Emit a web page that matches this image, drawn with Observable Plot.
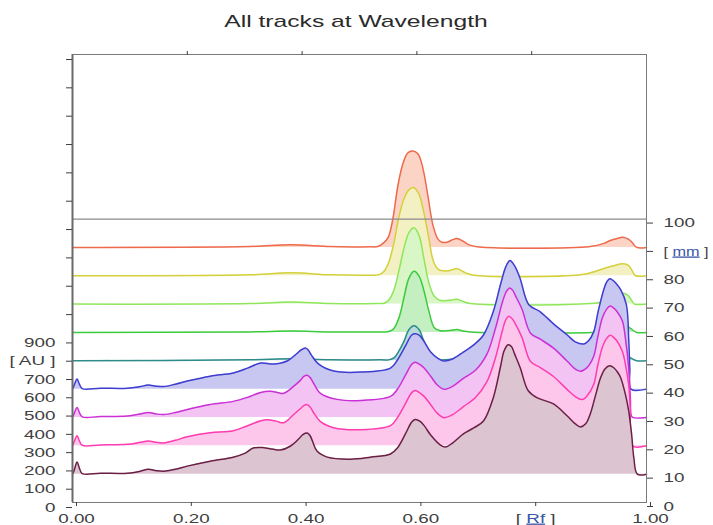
<!DOCTYPE html>
<html><head><meta charset="utf-8">
<script src="https://cdn.jsdelivr.net/npm/d3@7"></script>
<script src="https://cdn.jsdelivr.net/npm/@observablehq/plot@0.6"></script>
<style>
body{margin:0;background:#fff;}
#title{height:40px;width:713px;position:relative;font-family:"Liberation Sans",Arial,sans-serif;font-size:17px;color:#2b2b2b;}
#title span{position:absolute;left:356px;top:13px;transform:translateX(-50%) scaleX(1.45);white-space:nowrap;line-height:17px;}
#chart svg{display:block;}
</style></head><body>
<div id="title"><span>All tracks at Wavelength</span></div>
<div id="chart"></div>
<script>
// ---- data: track offsets (mm) and signal (AU above track baseline) vs Rf ----
const trackMm = [90, 80, 70, 60, 50, 40, 30, 20, 10];

const rf90 = [0,.310,.380,.449,.520,.532,.541,.550,.558,.567,.576,.584,.593,.602,.610,.619,.628,.637,.645,.654,.662,.670,.680,.690,.705,.902,.926,.937,.949,.959,.969,.975,.983,1];
const au90 = [0,5,14,5,3,5,22,55,154,340,461,516,527,511,439,285,121,44,27,30,42,49,35,15,3,5,22,38,49,55,44,27,0,0];

const rf80 = [0,.310,.380,.449,.520,.533,.542,.550,.559,.568,.577,.585,.594,.603,.611,.620,.629,.638,.646,.655,.670,.685,.699,.885,.914,.930,.943,.958,.967,.972,.977,.981,1];
const au80 = [0,5,16,5,3,5,22,66,165,313,417,467,483,450,362,220,77,33,27,27,38,16,3,5,27,44,55,66,60,44,16,0,0];

const rf70 = [0,.310,.380,.449,.530,.543,.551,.560,.569,.578,.586,.595,.604,.612,.621,.630,.639,.647,.660,.670,.680,.693,.902,.929,.948,.960,.969,.975,.979,1];
const au70 = [0,3,11,3,3,5,22,77,187,313,390,417,373,253,115,44,22,19,22,27,15,3,3,16,44,60,44,16,0,0];

const rf60 = [0,.310,.380,.449,.530,.543,.551,.560,.569,.578,.586,.595,.604,.612,.621,.630,.639,.647,.660,.670,.680,.693,.920,.946,.962,.972,.983,1];
const au60 = [0,3,8,3,3,3,5,22,82,198,296,335,307,231,115,27,11,8,12,16,8,3,3,16,44,22,0,0];

const rf50 = [0,.310,.380,.449,.537,.551,.560,.569,.578,.586,.595,.604,.612,.621,.630,.639,.647,.669,.693,.920,.946,.960,.972,.983,1];
const au50 = [0,5,11,5,5,5,16,55,110,170,192,170,110,55,16,6,5,11,5,5,16,27,16,0,0];

const rf40 = [0,.003,.008,.012,.017,.049,.096,.118,.132,.146,.159,.179,.200,.240,.280,.305,.328,.350,.374,.390,.398,.406,.411,.416,.429,.455,.502,.554,.566,.580,.591,.597,.604,.613,.624,.636,.647,.662,.681,.699,.716,.733,.746,.755,.762,.767,.772,.780,.795,.815,.838,.862,.876,.891,.899,.908,.916,.926,.931,.936,.941,.946,.955,.965,.969,.971,.973,1];
const au40 = [0,22,55,27,3,5,5,14,22,16,14,27,44,71,88,115,143,137,154,192,214,225,213,187,137,99,93,115,159,236,296,303,295,258,203,170,154,165,203,242,296,423,576,670,703,690,664,604,461,423,357,296,258,247,264,313,428,549,588,604,596,582,544,461,275,110,0,0];

const rf30 = [0,.003,.008,.012,.017,.049,.096,.118,.132,.146,.159,.179,.200,.240,.280,.305,.328,.345,.357,.368,.385,.397,.403,.409,.414,.420,.432,.461,.502,.554,.566,.580,.591,.597,.605,.613,.624,.636,.647,.662,.681,.702,.722,.737,.749,.756,.762,.767,.772,.783,.798,.815,.838,.862,.876,.885,.897,.908,.915,.923,.930,.937,.943,.948,.958,.963,.969,.972,.973,.976,1];
const au30 = [0,22,55,27,3,5,8,19,27,19,16,27,44,71,88,110,137,143,137,132,170,203,225,231,218,187,132,99,93,115,154,231,291,302,290,269,225,176,154,170,214,258,346,489,631,690,708,695,664,593,461,428,379,307,264,253,275,335,439,544,590,609,598,582,527,439,269,99,16,0,0];

const rf20 = [0,.003,.008,.012,.017,.049,.096,.118,.132,.146,.159,.179,.200,.240,.280,.305,.328,.340,.355,.368,.385,.397,.403,.409,.414,.420,.432,.455,.502,.554,.566,.580,.591,.597,.605,.613,.624,.636,.647,.662,.681,.702,.722,.737,.749,.755,.760,.766,.772,.783,.798,.815,.838,.862,.876,.888,.897,.908,.915,.923,.930,.937,.943,.948,.958,.963,.969,.972,.975,1];
const au20 = [0,22,55,27,3,5,8,19,27,19,16,30,49,71,82,110,137,143,135,126,170,203,220,225,212,181,132,99,88,110,154,231,291,302,290,269,225,176,154,170,214,264,351,483,631,690,708,695,664,593,461,428,379,307,269,253,275,335,439,538,585,604,592,576,516,450,335,192,0,0];

const rf10 = [0,.003,.008,.012,.017,.049,.096,.118,.132,.146,.159,.179,.200,.240,.280,.301,.315,.333,.348,.362,.380,.394,.402,.409,.414,.418,.426,.444,.484,.519,.554,.566,.580,.591,.597,.605,.613,.624,.641,.650,.662,.681,.699,.716,.733,.746,.752,.759,.765,.770,.780,.794,.810,.838,.862,.876,.885,.894,.902,.911,.920,.928,.936,.943,.950,.955,.963,.969,.974,.978,.984,1];
const au10 = [0,22,66,33,3,5,5,16,27,19,16,27,44,71,93,115,143,145,137,132,154,192,218,225,210,181,126,93,82,93,110,143,220,285,299,290,264,214,159,148,170,220,253,291,417,593,675,708,697,659,582,456,417,384,318,275,258,275,329,428,527,577,593,582,556,527,439,346,220,88,0,0];

// axis ticks and labels
const xTicks = [0, 0.2, 0.4, 0.6, 0.8, 1.0];
const xTickLabels = ["0.00", "0.20", "0.40", "0.60", "[ Rf ]", "1.00"];
const auTicks = [0, 100, 200, 300, 400, 500, 600, 700, 800, 900];
const auTickLabels = ["0", "100", "200", "300", "400", "500", "600", "700", "[ AU ]", "900"];
const auUpperTicks = [1055, 1210, 1365, 1520, 1675, 1830, 1985, 2140, 2295, 2450];
const mmTicks = [0, 10, 20, 30, 40, 50, 60, 70, 80, 90, 100];
const mmTickLabels = ["0", "10", "20", "30", "40", "50", "60", "70", "80", "[ mm ]", "100"];

// ---- styles ----
const strokes = ["#ee6a4c", "#d4d03c", "#8fe65a", "#3ccb3c", "#2f8a8a", "#3d3dcf", "#cb30d6", "#ff3db0", "#6b1f45"];
const fills   = ["#fcd4c6", "#f3f0c4", "#d8f6c6", "#c4efc0", "#b8dcdc", "#c7c7f1", "#f2c3f3", "#fcc7ea", "#dcc4d1"];
const MM_AU = 15.5; // AU per mm of track offset on this chart
const SX = 1.45;     // horizontal stretch of lettering in the reference

const seriesRf = [rf90, rf80, rf70, rf60, rf50, rf40, rf30, rf20, rf10];
const seriesAu = [au90, au80, au70, au60, au50, au40, au30, au20, au10];

const marks = [];
trackMm.forEach((mm, k) => {
  const base = mm * MM_AU;
  const data = seriesRf[k].map((r, i) => ({rf: r, y0: base, y: base + seriesAu[k][i]}));
  marks.push(Plot.areaY(data, {x: "rf", y1: "y0", y2: "y", fill: fills[k], curve: "catmull-rom"}));
  marks.push(Plot.lineY(data, {x: "rf", y: "y", stroke: strokes[k], strokeWidth: 1.5, curve: "catmull-rom"}));
});

const chart = Plot.plot({
  width: 713, height: 485,
  marginTop: 14, marginBottom: 23, marginLeft: 72, marginRight: 67,
  x: {domain: [0, 1], axis: null},
  y: {domain: [0, 2450], axis: null},
  style: {fontFamily: "Liberation Sans, Arial, sans-serif", fontSize: "13px", color: "#3f3f3f", background: "#fff", overflow: "visible"},
  marks: [
    ...marks,
    Plot.ruleY([100 * MM_AU], {stroke: "#8a8a8a", strokeWidth: 1.2}),
    Plot.frame({stroke: "#7a7a7a"}),
    Plot.ruleX([0], {stroke: "#6a6a6a", strokeWidth: 2}),
    Plot.axisY({anchor: "left", label: null, ticks: auTicks.concat(auUpperTicks), tickSize: 6, tickPadding: 11, dy: 5,
      tickFormat: d => { const i = auTicks.indexOf(d); return i >= 0 ? auTickLabels[i] : ""; }}),
    Plot.axisY({anchor: "right", label: null, ticks: mmTicks.map(m => m * MM_AU), tickSize: 6, tickPadding: 11, dy: 4,
      tickFormat: d => mmTickLabels[Math.round(d / MM_AU / 10)]}),
    Plot.axisX({anchor: "bottom", label: null, ticks: xTicks, tickSize: 4, tickPadding: 7, dx: 4,
      tickFormat: d => xTickLabels[xTicks.indexOf(d)]}),
    Plot.axisX({anchor: "top", label: null, ticks: xTicks.slice(1, 5), tickSize: 4, tickFormat: () => ""})
  ]
});
document.getElementById("chart").appendChild(chart);

// link-style unit labels and horizontally stretched lettering as in the reference
const svgNS = "http://www.w3.org/2000/svg";
for (const t of chart.querySelectorAll("text")) {
  let sx = SX;
  const m = (t.textContent || "").match(/^\[ (mm|Rf) \]$/);
  if (m) {
    if (m[1] === "mm") sx = 1.25;
    t.textContent = "";
    const a = document.createElementNS(svgNS, "tspan"); a.textContent = "[ ";
    const b = document.createElementNS(svgNS, "tspan"); b.textContent = m[1];
    b.setAttribute("fill", "#3a56a6"); b.setAttribute("style", "text-decoration:underline");
    const c = document.createElementNS(svgNS, "tspan"); c.textContent = " ]";
    t.append(a, b, c);
  }
  const x = t.getAttribute("x");
  if (x !== null && !isNaN(+x)) t.setAttribute("x", +x / sx);
  t.setAttribute("transform", (t.getAttribute("transform") || "") + ` scale(${sx},1)`);
}
</script></body></html>
